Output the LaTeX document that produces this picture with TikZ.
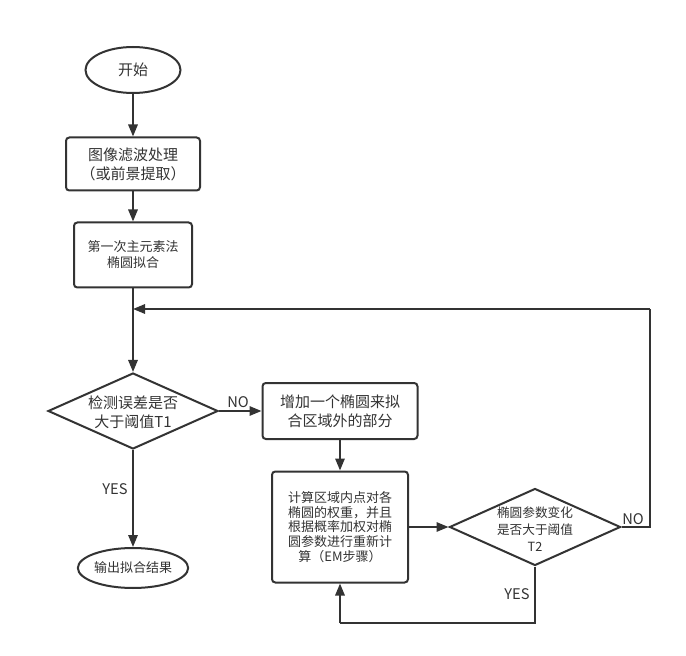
\documentclass[tikz,border=0pt]{standalone}
\usepackage{fontspec}
\setmainfont{Noto Sans CJK SC}
\usetikzlibrary{shapes.geometric,arrows.meta}
\definecolor{ln}{HTML}{333333}
\begin{document}
\begin{tikzpicture}[x=0.75pt,y=-0.75pt,
  every node/.style={text=ln},
  lw/.style={line width=1.5pt,draw=ln},
  term/.style={ellipse,lw,inner sep=0pt},
  proc/.style={rectangle,rounded corners=2.5pt,lw,inner sep=0pt,align=center},
  dec/.style={diamond,lw,inner sep=0pt},
  txt/.style={align=center,inner sep=0pt},
  lab/.style={inner sep=0pt,font=\fontsize{11}{13}\selectfont},
  arr/.style={lw,-{Triangle[length=9pt,width=7pt]}},
  fa/.style={font=\fontsize{11.25}{14.25}\selectfont},
  fb/.style={font=\fontsize{9.75}{12}\selectfont},
  fc/.style={font=\fontsize{9.75}{11}\selectfont},
  fd/.style={font=\fontsize{9.5}{12.75}\selectfont}]
\useasboundingbox (0,0) rectangle (686,656);
\fill[white] (0,0) rectangle (686,656);

\node[term,minimum width=71.25pt,minimum height=34.5pt,fa] (start) at (133,70) {开始};
\node[proc,minimum width=100.5pt,minimum height=39.75pt,fa] (b1) at (133,164) {图像滤波处理\\（或前景提取）};
\node[proc,minimum width=88.5pt,minimum height=48.75pt,fb] (b2) at (133,255) {第一次主元素法\\椭圆拟合};
\node[dec,minimum width=127.5pt,minimum height=57pt] (d1) at (133,411) {};
\node[txt,fa] (d1t) at (133,412) {检测误差是否\\大于阈值T1};
\node[proc,minimum width=116.25pt,minimum height=42pt,fa] (b3) at (340,411) {增加一个椭圆来拟\\合区域外的部分};
\node[proc,minimum width=102pt,minimum height=83.25pt,fc] (b4) at (340,527) {计算区域内点对各\\椭圆的权重，并且\\根据概率加权对椭\\圆参数进行重新计\\算（EM步骤）};
\node[term,minimum width=81pt,minimum height=30pt,fb] (end) at (133,568) {输出拟合结果};
\node[dec,minimum width=128.25pt,minimum height=57.75pt] (d2) at (535,527) {};
\node[txt,fd] (d2t) at (535,529) {椭圆参数变化\\是否大于阈值\\T2};

\coordinate (c1) at (650,527);
\coordinate (c2) at (650,309);
\coordinate (c3) at (133,309);
\coordinate (c4) at (535,623);
\coordinate (c5) at (340,623);

\draw[arr] (start) -- (b1);
\draw[arr] (b1) -- (b2);
\draw[arr] (b2) -- (d1);
\draw[arr] (d1) -- (b3);
\draw[arr] (d1) -- (end);
\draw[arr] (b3) -- (b4);
\draw[arr] (b4) -- (d2);
\draw[lw] (d2.east) -- (c1) -- (c2);
\draw[arr] (c2) -- (c3);
\draw[lw] (d2.south) -- (c4) -- (c5);
\draw[arr] (c5) -- (b4.south);

\node[lab] (no1) at (238,402) {NO};
\node[lab] (yes1) at (115,489) {YES};
\node[lab] (no2) at (633,519) {NO};
\node[lab] (yes2) at (517,594) {YES};
\end{tikzpicture}
\end{document}
